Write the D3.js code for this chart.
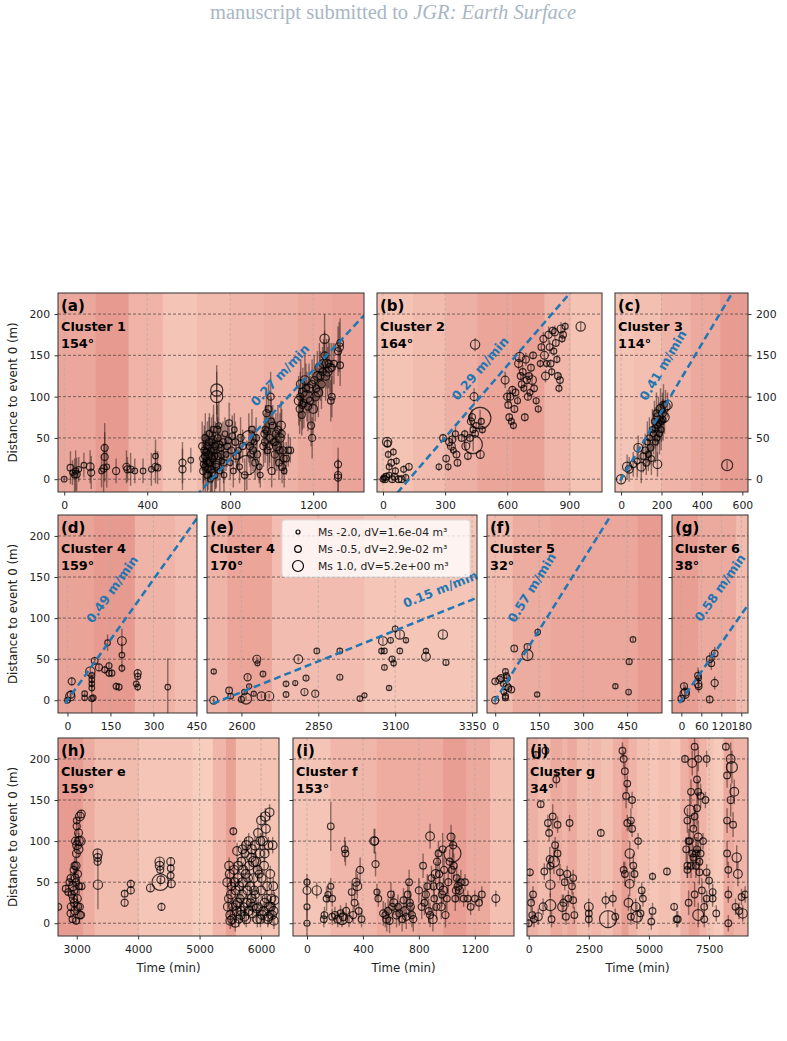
<!DOCTYPE html>
<html>
<head>
<meta charset="utf-8">
<script src="https://cdn.jsdelivr.net/npm/d3@7"></script>
<style>
  body { margin: 0; background: #fff; }
  svg text { font-family: "DejaVu Sans", sans-serif; }
</style>
</head>
<body>
<svg id="chart" width="787" height="1041"></svg>
<script>
'use strict';

// ---- data ----
// points: [time (min), distance (m), Ms, error half-length (m)]
var yTicks = [0, 50, 100, 150, 200];

var ptsA = [[0,0,-1,3],[30,14,-0.5,20],[40,8,-1,15],[50,5,-0.8,20],[55,10,-0.8,25],[60,6,-0.3,20],[70,12,-1,15],[95,17,-1,15],
  [125,15,0,20],[130,8,-0.3,20],[180,10,-1,20],[190,13,-0.3,30],[195,27,-0.3,30],[195,38,-0.3,30],[205,15,-1,25],[250,10,-0.3,15],
  [300,15,-0.3,20],[305,12,-0.3,15],[320,12,-0.5,20],[340,10,-1,15],[380,10,-1,15],[420,12,-1,20],[440,15,-0.3,20],[440,28,-1,20],
  [450,14,-0.5,20],[570,12,-0.3,25],[570,20,-0.3,25],[610,23,-1,15],
  [670,10,-0.3,25],[670,25,-0.3,30],[675,35,-0.5,30],[680,15,-0.3,30],[680,50,-0.5,30],[690,5,-0.5,25],[690,40,-0.3,30],[695,20,-0.5,25],
  [700,30,-0.3,30],[700,55,-0.5,25],[705,0,-1,20],[710,12,-0.3,30],[710,45,-0.5,30],[715,25,-0.3,30],[720,60,-0.5,30],[720,35,-0.5,25],
  [725,5,-0.5,25],[730,18,-0.3,30],[735,100,1.3,30],[735,108,1.3,30],[740,50,-0.5,25],[740,28,-0.3,30],[745,65,-1,30],[750,10,-1,25],
  [755,38,-0.5,25],[760,22,-1,20],[765,45,-0.5,25],[770,5,-1,25],[775,55,-1,20],[780,30,-1,20],[790,47,-0.5,25],[795,68,-0.5,25],
  [800,20,-1,20],[805,35,-0.5,20],[810,52,-0.5,25],[815,10,-1,20],[820,60,-1,20],[825,45,-0.5,25],[830,28,-0.5,20],[840,35,-1,20],
  [845,15,-1,20],[850,50,-0.3,25],[860,40,-0.5,20],[870,5,-0.5,20],[880,17,2.7,30],[890,50,1.8,30],[900,30,-0.3,25],[905,60,-0.5,25],
  [910,35,-0.3,25],[915,45,-1,20],[920,20,-0.5,20],[930,30,-0.3,25],[940,15,-1,20],[945,5,-1,15],
  [665,40,-0.3,30],[672,18,-0.5,30],[678,28,-0.3,30],[685,33,-0.5,25],[688,22,-0.3,30],[693,12,-0.5,25],[698,45,-0.3,30],[703,20,-0.3,25],
  [708,35,-0.5,30],[713,8,-0.3,25],[718,48,-0.3,30],[723,28,-0.5,25],[728,40,-0.3,30],[733,15,-0.5,25],[738,60,-0.3,30],[748,42,-0.5,25],
  [758,30,-0.3,25],[768,20,-0.5,25],[785,40,-0.5,25],[895,40,-0.3,25],[925,50,-0.5,25],
  [960,40,-0.3,25],[965,55,-0.3,25],[970,60,-0.5,30],[975,80,-0.3,30],[980,35,-0.5,25],[985,85,-0.5,30],[990,50,-0.3,30],[995,100,-0.3,30],
  [1000,10,-0.3,20],[1005,65,-0.5,25],[1010,45,-0.3,30],[1015,30,-0.3,25],[1020,55,-0.3,25],[1025,40,0.3,30],[1030,60,-0.3,30],[1035,20,-0.5,20],
  [1040,50,0.3,30],[1045,65,0.3,30],[1050,15,-0.3,20],[1055,35,-0.3,25],[1060,10,-1,20],[1070,25,-0.5,20],[1080,35,-0.5,20],[1090,35,-0.5,15],
  [968,45,-0.3,25],[978,58,-0.3,30],[988,40,-0.3,25],[998,70,-0.5,30],[1018,45,-0.3,25],[1038,35,-0.3,25],[1048,55,-0.3,30],[1058,25,-0.3,20],
  [1130,95,0.3,30],[1135,85,-0.3,30],[1140,115,0.3,30],[1145,78,-0.3,25],[1150,105,0.3,30],[1155,92,-0.3,30],[1160,120,0.3,30],[1170,100,1.3,30],
  [1180,110,0.3,30],[1185,95,-0.3,30],[1190,65,-0.3,25],[1195,50,-0.3,25],[1200,85,0.3,30],[1205,120,-0.3,30],[1210,100,0.3,30],[1220,125,0.3,30],
  [1225,105,0.3,30],[1230,135,0.3,30],[1240,115,-0.3,30],[1250,140,0.3,30],[1255,170,0.5,30],[1255,150,-0.3,30],[1260,125,0.3,30],[1265,140,0.3,30],
  [1270,130,0.3,30],[1280,135,0.3,30],[1285,95,-0.5,25],[1290,100,-0.5,25],[1300,140,-0.5,25],[1320,155,-0.3,30],[1325,160,0.3,30],[1330,165,-0.5,30],
  [1138,100,-0.3,30],[1148,90,-0.3,30],[1165,110,-0.3,30],[1175,88,-0.3,30],[1195,115,-0.3,30],[1215,110,-0.3,30],[1235,125,-0.3,30],[1245,130,-0.3,30],
  [1275,140,-0.3,30],[1290,135,-0.3,30],
  [1320,5,-0.3,20],[1320,18,-0.3,20],[1320,2,-0.3,20],[1330,138,-0.5,25]];

var ptsB = [[0,0,-1,5],[5,2,-1,5],[10,0,-0.5,5],[15,3,-0.5,5],[20,45,0.5,5],[22,43,-0.5,5],[25,30,-1,5],[30,5,-1,5],[30,15,-0.8,5],
  [40,20,-0.5,5],[45,0,-0.5,5],[50,33,-1,5],[55,3,-0.5,5],[60,10,-0.8,5],[65,22,-1,5],[75,0,-0.5,5],[90,0,-0.5,5],[100,12,-0.8,5],
  [110,2,-0.8,5],[125,15,-0.5,5],
  [270,15,-1,5],[290,50,-0.5,5],[305,25,-0.5,5],[315,15,-1,5],[320,45,-0.3,8],[330,40,0,8],[335,48,-0.3,8],[340,35,-1,5],[350,55,-0.8,8],
  [355,30,-0.5,5],[360,20,-0.5,5],[380,50,-0.5,5],[395,55,-0.8,5],[400,40,0,5],[410,28,-0.5,5],[420,50,-0.5,8],[425,70,-0.3,8],[430,75,-0.3,10],
  [435,60,-0.8,5],[440,100,0,10],[445,55,-0.5,5],[445,163,0.5,8],[450,65,-0.8,5],[469,74,3,10],[436,42,2.5,8],[470,30,0,5],[475,70,-0.8,5],[480,60,-0.8,5],
  [590,120,0,10],[600,100,-0.3,8],[605,90,-0.5,5],[610,75,-0.5,5],[615,100,-0.3,8],[620,70,-0.8,5],[625,108,-0.3,5],[630,65,-0.8,5],
  [635,85,-0.5,5],[640,105,-0.5,5],[650,95,-0.8,5],[655,140,0,8],[660,148,0.5,8],[665,125,-0.5,5],[670,115,-0.5,8],[675,130,-0.5,8],
  [680,110,-0.8,5],[685,75,-0.5,5],[690,145,-0.3,8],[695,120,-0.3,8],[700,100,-0.3,5],[705,125,-0.5,5],[710,105,-0.8,5],[715,135,-0.5,5],
  [720,120,0.3,8],[725,150,-0.5,5],[730,110,-0.5,5],[740,95,-0.8,5],[750,85,-0.8,5],[760,140,-0.8,5],[765,160,-0.5,5],[775,170,-0.3,8],
  [780,150,0,8],[785,125,0,8],[790,140,-0.8,5],[800,175,-0.3,10],[805,160,-0.5,8],[810,140,-0.5,5],[815,130,-0.8,5],[820,180,-0.5,5],
  [825,155,-0.8,5],[830,178,-0.3,8],[835,165,-0.5,5],[840,145,-0.8,5],[845,125,-0.5,5],[850,110,-0.8,5],[855,120,-0.5,8],[860,182,0,8],
  [865,170,-0.8,5],[870,175,-0.5,5],[880,185,-0.8,5],[955,185,0.5,5]];

var ptsC = [[0,0,0.5,5],[30,15,0.5,15],[40,12,0,15],[60,18,-0.5,15],[80,22,-0.8,20],[85,38,0.3,15],[100,15,0.3,20],[110,28,-0.5,20],
  [120,35,-0.5,20],[125,20,-0.5,15],[130,45,-0.8,25],[135,30,-0.8,20],[140,50,-0.8,25],[145,38,-0.5,20],[150,25,-0.8,20],[155,60,-0.8,25],
  [160,55,-0.8,25],[165,70,-0.8,25],[170,45,-0.8,25],[175,80,-0.5,25],[180,18,0.3,15],[180,65,-0.8,25],[185,75,0.5,25],[190,55,-0.8,25],
  [195,85,0.3,25],[200,70,-0.8,25],[205,80,0,25],[210,90,-0.3,25],[215,75,0.5,20],[220,88,0.5,20],[230,90,0.5,15],[525,17,1,5],
  [168,62,-0.8,25],[178,50,-0.8,25],[188,68,-0.8,25],[198,60,-0.8,25],[208,72,-0.8,25]];

var ptsD = [[0,0,-1,3],[10,5,0.5,5],[12,7,-0.3,5],[15,23,-0.3,5],[60,3,-1,3],[60,8,-1,3],[80,35,0.5,5],[85,30,-0.8,5],[85,25,-1,5],
  [85,20,-1,5],[85,15,-1,5],[85,2,-0.8,25],[90,3,-1,5],[95,48,-0.5,5],[110,40,-0.3,5],[130,37,-0.8,5],[140,70,-1,10],[145,42,-0.8,5],
  [145,33,-0.8,5],[155,33,-0.8,5],[170,17,-0.8,5],[180,16,-0.8,5],[190,72,0.3,15],[190,55,-1,15],[190,39,-1,5],[240,20,-1,5],
  [245,33,-0.3,5],[245,29,-0.8,5],[245,16,-1,5],[350,16,-1,35]];

var ptsE = [[2510,35,-1.2,3],[2510,0,0,3],[2560,12,-0.5,3],[2565,5,-1,3],[2600,1,-0.8,3],[2610,10,-1,3],[2615,2,1,3],[2620,28,-0.3,3],
  [2625,17,-1.3,3],[2640,8,-1.3,3],[2650,50,0,3],[2652,45,-1.3,3],[2665,5,0.3,3],[2670,32,-1,3],[2690,5,0.5,3],[2745,7,-1,3],
  [2745,20,-1,3],[2775,21,-1.3,3],[2785,50,0.3,3],[2805,10,-0.3,3],[2810,27,-0.8,3],[2845,60,-1,4],[2840,8,-0.3,3],[2920,28,-0.8,3],
  [2920,60,-1,4],[2985,2,-1,3],[3000,6,-1.3,3],[3055,60,-1.2,5],[3060,72,0.3,4],[3065,40,-1,3],[3065,60,-1,4],[3080,15,-1.2,3],
  [3085,73,-1,4],[3090,50,-0.8,3],[3095,45,-1.2,5],[3100,87,-1,5],[3115,80,0.5,5],[3115,60,-1,4],[3135,73,-1.2,4],[3200,60,-1.2,4],
  [3200,53,0.3,4],[3255,80,0.5,5],[3265,46,-0.8,4]];

var ptsF = [[0,0,-0.3,3],[0,23,-0.5,3],[15,25,-0.3,3],[20,27,-0.3,3],[28,20,-0.8,3],[30,10,-1,3],[35,35,-1,3],[35,3,-0.8,3],[35,5,-0.8,5],
  [38,30,-0.8,3],[40,17,-0.3,3],[40,27,-0.5,3],[45,15,-0.5,3],[55,13,-0.5,3],[65,63,-0.5,3],[110,55,1,5],[110,65,-0.5,3],[145,83,-1,5],
  [143,7,-1.2,3],[410,17,-1.2,3],[455,10,-1,3],[457,47,-0.8,3],[470,74,-1,3]];

var ptsG = [[0,2,-0.5,3],[8,17,-0.3,5],[10,8,0.5,5],[12,10,0,8],[50,30,-0.5,10],[52,27,-1,10],[50,20,0,8],[52,17,-0.5,8],[85,1,-0.5,5],
  [85,50,-0.5,8],[90,45,-0.5,8],[100,57,-0.5,8],[100,21,-0.3,8]];

var ptsH = [[2700,20,-0.5,5],[2820,42,-0.5,5],[2860,38,-0.5,5],[2880,50,-0.5,5],[2900,55,-0.3,8],[2900,12,-0.3,5],[2910,20,0,5],[2920,35,-0.3,5],
  [2930,5,-0.5,5],[2940,45,0.3,5],[2950,65,-0.3,10],[2960,25,0,10],[2965,70,-0.3,10],[2970,15,0,5],[2980,100,0,10],[2985,50,-0.3,10],
  [2990,3,-0.5,5],[2995,85,0,10],[3000,118,-0.3,10],[3000,125,-0.5,5],[3010,30,0,10],[3020,60,-0.3,10],[3030,110,0,10],[3030,90,0.3,10],
  [3040,45,-0.5,10],[3050,20,-0.3,5],[3050,130,0.3,5],[3060,100,0.5,5],[3070,10,-0.3,5],[3075,133,0,5],[3080,45,-0.5,5],
  [2955,40,0,10],[2975,55,0,10],[2990,70,0,10],[3005,95,0.3,10],[3015,20,0,10],[3035,100,0.3,10],[3045,10,0,10],[2945,30,0,10],
  [3340,85,0.5,5],[3340,80,0,5],[3340,75,-0.3,5],[3345,47,0.5,30],[3780,25,-0.3,5],[3780,36,-0.5,5],[3880,48,-0.3,5],[3880,40,-0.3,5],
  [4200,43,0,5],[4350,75,0.5,5],[4350,70,0.3,5],[4360,50,2.2,5],[4370,53,0,5],[4380,20,-0.3,5],[4360,65,-0.3,5],[4530,75,0,5],
  [4530,67,-0.5,5],[4530,58,-0.5,5],[4540,48,0,5],
  [5450,50,0.3,10],[5470,30,0,10],[5480,70,0.3,10],[5500,10,0.3,10],[5520,45,0,10],[5540,20,0,10],[5550,112,-0.5,5],[5560,65,0.3,10],
  [5580,0,0,10],[5590,40,0.3,10],[5600,15,0.3,10],[5610,88,0.3,10],[5620,55,0.3,10],[5640,5,0,10],[5660,30,0,10],[5680,75,0.3,10],
  [5700,50,0.5,10],[5720,20,0,10],[5740,85,0,10],[5750,60,0.3,10],[5760,5,0.3,10],[5780,40,0.3,10],[5800,100,0.3,10],[5810,70,0.3,10],
  [5830,25,0,10],[5850,90,0.5,10],[5860,12,0.3,10],[5880,55,0.3,10],[5900,95,0.5,10],[5910,35,0,10],[5920,75,0.5,10],[5940,5,0.3,10],
  [5950,110,0.3,10],[5960,20,0,10],[5970,60,0,10],[5980,85,0.3,10],[6000,125,0.3,10],[6000,40,0.3,10],[6020,10,0.3,10],[6030,100,0.5,10],
  [6050,70,0.3,10],[6060,25,0.3,10],[6070,130,0.5,10],[6080,115,0.3,10],[6100,45,0.3,10],[6110,5,0.3,10],[6120,95,0.3,10],[6130,20,0.3,10],
  [6140,135,0.3,10],[6150,60,0.3,10],[6170,30,0.3,10],[6180,10,0.3,10],[6200,45,0.3,10],[6210,3,0.3,10],[6220,28,0.3,10],[5500,3,0.3,10],
  [5680,15,0.3,10],[5850,30,0.3,10],[5990,5,0.3,10],[5620,25,0.3,10],[5800,15,0.3,10],
  [5460,20,0.3,10],[5490,60,0.3,10],[5510,35,0.3,10],[5530,5,0.3,10],[5570,50,0.3,10],[5590,22,0.3,10],[5630,70,0.3,10],[5650,45,0.3,10],
  [5670,10,0.3,10],[5690,35,0.3,10],[5710,65,0.3,10],[5730,8,0.3,10],[5770,25,0.3,10],[5790,55,0.3,10],[5820,45,0.3,10],[5840,80,0.3,10],
  [5870,20,0.3,10],[5890,40,0.3,10],[5930,18,0.3,10],[5945,65,0.3,10],[5990,100,0.3,10],[6010,55,0.3,10],[6040,15,0.3,10],[6060,85,0.3,10],
  [6090,30,0.3,10],[6120,8,0.3,10],[6160,20,0.3,10],[6190,95,0.3,10],[6205,15,0.3,10],[5760,95,0.5,10],[5880,75,0.8,10],[5700,90,0.3,10]];

var ptsI = [[0,0,-0.8,20],[0,20,-0.8,15],[0,40,0,15],[0,50,-0.8,10],[70,40,0.5,10],[120,5,-0.5,10],[125,10,-0.5,10],[140,30,-0.5,15],
  [150,35,-0.8,10],[170,118,-0.5,30],[170,45,-0.8,10],[180,30,-0.5,10],[180,8,-0.5,10],[200,10,-0.3,10],[220,5,0,10],[240,12,-0.3,10],
  [250,5,1,10],[260,8,0,10],[270,90,-0.5,15],[275,85,-0.5,15],[280,15,-0.3,10],[300,5,-0.3,10],[320,38,-0.5,10],[330,10,-0.3,10],
  [340,25,-0.5,10],[350,50,0,15],[360,45,0.3,15],[370,15,-0.5,10],[380,65,-0.3,15],[390,5,-0.5,10],[480,100,0.3,15],[485,100,0,15],
  [490,72,-0.3,15],[500,38,-0.8,10],[510,30,-0.5,10],[560,10,-0.5,15],[570,5,0,15],[580,15,-0.3,15],[600,35,-0.5,15],[620,25,0,15],
  [640,10,0,15],[650,20,-0.5,15],[680,5,-0.5,15],[690,28,-0.5,15],[700,15,0.3,15],[720,35,-0.5,15],[730,50,-0.5,15],[740,20,0,15],
  [750,10,-0.3,15],[760,5,-0.3,15],[800,40,-0.3,15],[830,70,-0.5,15],[840,25,-0.5,15],[860,45,-0.5,15],[870,15,-0.5,15],[880,106,0.3,15],
  [890,55,-0.5,15],[900,5,0.3,15],[910,30,-0.5,15],[920,60,0.3,15],[930,75,-0.3,15],[940,85,-0.5,15],[950,45,-0.3,15],[960,20,0,15],
  [970,90,-0.5,20],[975,40,0.3,15],[980,65,-0.3,15],[990,10,-0.3,15],[1000,30,-0.5,15],[1020,75,-0.3,15],[1030,105,0,15],[1040,85,2.3,15],
  [1045,95,-0.3,15],[1050,70,-0.5,15],[1060,30,-0.5,15],[1070,55,-0.5,15],[1080,45,0,15],[1090,40,0,15],[1100,50,-0.5,15],[1120,30,-0.5,10],
  [1130,50,-0.5,10],[1150,30,-0.5,10],[1170,20,-0.5,10],[1200,30,-0.5,10],[1230,25,-0.5,10],[1250,35,-0.5,10],[1350,30,0,10],
  [545,12,-0.3,15],[590,3,-0.3,15],[610,20,-0.3,15],[660,12,-0.3,15],[710,8,-0.3,15],[735,25,-0.3,15],[820,20,-0.3,15],[850,35,-0.3,15],
  [880,10,-0.3,15],[905,45,-0.3,15],[925,20,-0.3,15],[945,60,-0.3,15],[965,35,-0.3,15],[1010,50,-0.3,15],[1035,65,-0.3,15],[1065,40,-0.3,15]];

var ptsJ = [[0,0,-0.5,5],[50,62,-0.5,5],[100,25,-0.5,10],[150,10,-0.5,10],[180,35,-0.5,10],[220,5,-0.5,10],[300,205,-0.5,5],[400,8,0,10],
  [500,145,-0.5,5],[600,20,0,10],[650,63,-0.5,10],[700,210,-0.5,5],[800,122,-0.5,10],[850,110,-0.5,10],[880,78,-0.3,15],[900,70,-0.5,10],
  [900,22,1,15],[900,47,0.5,15],[950,5,-0.5,10],[1000,130,-0.5,15],[1050,75,1,15],[1100,95,-0.5,10],[1150,175,-0.5,10],[1200,120,-0.5,10],
  [1200,85,-0.5,10],[1300,62,-0.5,10],[1400,20,0.5,15],[1450,25,-0.3,10],[1500,50,-0.5,10],[1550,8,-0.5,10],[1600,60,-0.3,10],[1650,30,-0.5,10],
  [1700,122,-0.5,10],[1800,45,-0.5,10],[1850,55,-0.5,10],[1850,28,-0.5,10],[1900,10,-0.5,10],[2500,20,0.3,10],[2500,12,-0.5,10],[2500,5,-0.5,10],
  [3000,110,-0.5,5],[3200,28,-0.3,10],[3300,5,2.3,10],[3500,30,-0.5,10],[3600,8,-0.5,10],[3900,210,-0.5,10],[3950,200,-0.5,10],[3950,65,-0.5,10],
  [4000,60,-0.5,15],[4000,185,-0.5,10],[4050,155,-0.5,15],[4100,170,-0.5,10],[4100,122,-0.5,10],[4150,25,0.3,10],[4200,48,0.3,15],[4200,85,0.5,15],
  [4250,125,-0.5,15],[4250,8,-0.5,10],[4300,150,-0.5,10],[4300,115,-0.5,10],[4350,70,-0.5,15],[4400,60,-0.5,10],[4450,20,0.3,10],[4500,8,1,15],
  [4550,100,-0.5,10],[4650,12,-0.5,10],[4700,40,-0.5,10],[4750,30,-0.5,10],[5100,2,-0.5,10],[5150,57,-0.8,5],[5150,15,-0.5,10],[5750,63,-0.5,5],
  [6050,20,-0.5,5],[6150,5,-0.5,10],[6200,5,-0.5,10],[6500,200,-0.5,5],[6550,90,-0.5,15],[6600,125,-0.5,15],[6600,70,-0.5,15],[6600,65,-0.5,10],
  [6650,25,-0.5,15],[6700,137,1,20],[6700,100,-0.5,15],[6750,160,-0.5,15],[6800,195,0.3,15],[6850,115,-0.5,15],[6850,80,-0.5,15],[6900,35,-0.5,15],
  [6900,215,-0.5,15],[6950,85,-0.5,20],[7000,175,-0.5,20],[7000,140,-0.5,20],[7050,105,0,20],[7050,200,-0.5,15],[7050,10,1,15],[7100,62,-0.5,15],
  [7150,155,-0.5,15],[7150,85,-0.5,15],[7200,40,-0.5,15],[7250,100,-0.5,10],[7300,20,-0.5,10],[7300,5,-0.5,10],[7350,150,-0.5,10],[7400,200,-0.5,10],
  [7400,62,-0.5,10],[7400,30,-0.5,10],[7500,52,-0.5,10],[7650,38,-0.5,10],[7650,30,-0.5,10],[7800,12,-0.5,10],[8200,215,-0.5,5],[8250,180,-0.5,15],
  [8250,125,-0.5,15],[8250,85,-0.5,15],[8300,65,-0.5,10],[8300,35,-0.5,10],[8300,0,-0.5,10],[8400,200,0.3,20],[8400,150,-0.3,20],[8450,190,1,20],
  [8500,120,-0.5,15],[8550,160,0.3,15],[8600,20,-0.5,10],[8650,80,0.5,15],[8700,60,0.3,15],[8750,15,-0.5,10],[8850,32,-0.5,10],[8900,12,0.5,10],
  [9000,35,-0.5,10],
  [6750,70,-0.5,15],[6800,85,-0.5,15],[6950,70,-0.5,15],[7000,90,-0.5,15],[7100,75,-0.5,15],[6900,130,-0.5,15],[7050,160,-0.5,15],[6650,100,-0.5,15]];

// background shading: [from, to, level 0..1]
var bandsA = [[-30,150,0.62],[150,310,0.8],[310,475,0.45],[475,640,0.22],[640,800,0.35],[800,960,0.42],[960,1125,0.48],[1125,1290,0.58],[1290,1445,0.66]];
var bandsB = [[-29,145,0.25],[145,300,0.35],[300,455,0.5],[455,620,0.65],[620,780,0.7],[780,910,0.42],[910,1058,0.25]];
var bandsC = [[-30,60,0.22],[60,200,0.3],[200,345,0.45],[345,490,0.6],[490,628,0.78]];
var bandsD = [[-33,90,0.68],[90,235,0.8],[235,375,0.45],[375,452,0.32]];
var bandsE = [[2488,2555,0.45],[2555,2700,0.65],[2700,3000,0.32],[3000,3366,0.2]];
var bandsF = [[-28,60,0.35],[60,190,0.55],[190,485,0.62],[485,569,0.78]];
var bandsG = [[-28,50,0.75],[50,165,0.58],[165,200,0.35]];
var bandsH = [[2695,3100,0.78],[3100,3290,0.55],[3290,4020,0.35],[4020,4890,0.2],[4890,5215,0.1],[5215,5430,0.42],[5430,5590,0.7],[5590,6293,0.25]];
var bandsI = [[-100,166,0.22],[166,498,0.42],[498,973,0.56],[973,1140,0.75],[1140,1310,0.6],[1310,1480,0.3]];
var bandsJ = [[-70,400,0.5],[400,900,0.35],[900,1400,0.6],[1400,1600,0.45],[1600,2000,0.6],[2000,2600,0.35],[2600,3000,0.4],[3000,3500,0.3],
  [3500,3850,0.5],[3850,4150,0.75],[4150,4500,0.45],[4500,5000,0.3],[5000,5400,0.2],[5400,5900,0.3],[5900,6300,0.2],[6300,6650,0.5],
  [6650,7100,0.7],[7100,7400,0.45],[7400,7700,0.25],[7700,8100,0.15],[8100,8550,0.6],[8550,9120,0.45]];

var ticksA = [0, 400, 800, 1200], ticksB = [0, 300, 600, 900], ticksC = [0, 200, 400, 600];
var ticksD = [0, 150, 300, 450], ticksE = [2600, 2850, 3100, 3350], ticksF = [0, 150, 300, 450], ticksG = [0, 60, 120, 180];
var ticksH = [3000, 4000, 5000, 6000], ticksI = [0, 400, 800, 1200], ticksJ = [0, 2500, 5000, 7500];

var clusters = ['Cluster 1', 'Cluster 2', 'Cluster 3', 'Cluster 4', 'Cluster 4', 'Cluster 5', 'Cluster 6', 'Cluster e', 'Cluster f', 'Cluster g'];
var azimuths = ['154°', '164°', '114°', '159°', '170°', '32°', '38°', '159°', '153°', '34°'];
// migration fits: rate (m/min), start time, time of zero distance, label anchor [t, d]
var rates = [0.27, 0.29, 0.41, 0.49, 0.15, 0.57, 0.58];
var fitStart = [600, 0, -5, -8, 2507, -3, -6];
var fitZero = [710, 126, 0, 0, 2534, 0, 0];
var fitLabel = [[1040, 126], [469, 134], [208, 138], [156, 135], [3247, 135], [125, 137], [116, 137]];

var legendMs = [-2.0, -0.5, 1.0];
var legendDv = ['1.6e-04', '2.9e-02', '5.2e+00'];

// ---- layout ----
var panels = [
  { id: 'a', pts: ptsA, bands: bandsA, ticks: ticksA, dom: [-30, 1445], box: [58, 364, 293, 492], yLab: 'left' },
  { id: 'b', pts: ptsB, bands: bandsB, ticks: ticksB, dom: [-29, 1058], box: [377, 602, 293, 492] },
  { id: 'c', pts: ptsC, bands: bandsC, ticks: ticksC, dom: [-30, 628], box: [615, 748, 293, 492], yLab: 'right' },
  { id: 'd', pts: ptsD, bands: bandsD, ticks: ticksD, dom: [-33, 452], box: [58, 197, 515, 713], yLab: 'left' },
  { id: 'e', pts: ptsE, bands: bandsE, ticks: ticksE, dom: [2488, 3366], box: [207, 477, 515, 713], legend: true },
  { id: 'f', pts: ptsF, bands: bandsF, ticks: ticksF, dom: [-28, 569], box: [487, 662, 515, 713] },
  { id: 'g', pts: ptsG, bands: bandsG, ticks: ticksG, dom: [-28, 200], box: [672, 748, 515, 713] },
  { id: 'h', pts: ptsH, bands: bandsH, ticks: ticksH, dom: [2695, 6293], box: [58, 279, 738, 936], yLab: 'left', xLab: true },
  { id: 'i', pts: ptsI, bands: bandsI, ticks: ticksI, dom: [-100, 1480], box: [293, 514, 738, 936], xLab: true },
  { id: 'j', pts: ptsJ, bands: bandsJ, ticks: ticksJ, dom: [-70, 9120], box: [527, 748, 738, 936], xLab: true }
];

var yDom = [-15.5, 225.5];
var blue = '#1f77b4';
var shade = d3.scaleLinear().domain([0, 1]).range(['#f9d5c5', '#e38b82']);
var logR = d3.scaleLinear().domain([-2, 1]).range([Math.log(2), Math.log(5.5)]);
var radius = function(ms) { return Math.exp(logR(ms)); };

var svg = d3.select('#chart');
var defs = svg.append('defs');

// header
svg.append('text')
  .attr('x', 393).attr('y', 19)
  .attr('text-anchor', 'middle')
  .style('font-family', '"Liberation Serif", serif')
  .style('font-size', '20.5px')
  .attr('fill', '#a9b6c4')
  .text('manuscript submitted to ')
  .append('tspan').style('font-style', 'italic').text('JGR: Earth Surface');

var drawPanel = function(p, i) {
  var x = d3.scaleLinear().domain(p.dom).range([p.box[0], p.box[1]]);
  var y = d3.scaleLinear().domain(yDom).range([p.box[3], p.box[2]]);
  var w = p.box[1] - p.box[0], h = p.box[3] - p.box[2];

  defs.append('clipPath').attr('id', 'clip-' + p.id)
    .append('rect').attr('x', p.box[0]).attr('y', p.box[2]).attr('width', w).attr('height', h);

  var g = svg.append('g');
  var inner = g.append('g').attr('clip-path', 'url(#clip-' + p.id + ')');

  inner.selectAll('rect.band').data(p.bands).enter()
    .append('rect')
    .attr('x', function(d) { return x(d[0]); })
    .attr('y', p.box[2])
    .attr('width', function(d) { return x(d[1]) - x(d[0]) + 0.5; })
    .attr('height', h)
    .attr('fill', function(d) { return shade(d[2]); });

  // grid
  inner.selectAll('line.vg').data(p.ticks).enter()
    .append('line')
    .attr('x1', function(d) { return x(d); }).attr('x2', function(d) { return x(d); })
    .attr('y1', p.box[2]).attr('y2', p.box[3])
    .attr('stroke', '#b8a8a4').attr('stroke-width', 0.7).attr('stroke-dasharray', '3,2');
  inner.selectAll('line.hg').data(yTicks).enter()
    .append('line')
    .attr('x1', p.box[0]).attr('x2', p.box[1])
    .attr('y1', function(d) { return y(d); }).attr('y2', function(d) { return y(d); })
    .attr('stroke', '#5a4a48').attr('stroke-width', 0.8).attr('stroke-dasharray', '3,2');

  // error bars then markers
  inner.selectAll('line.err').data(p.pts).enter()
    .append('line')
    .attr('x1', function(d) { return x(d[0]); }).attr('x2', function(d) { return x(d[0]); })
    .attr('y1', function(d) { return y(d[1] - d[3]); }).attr('y2', function(d) { return y(d[1] + d[3]); })
    .attr('stroke', '#2a1a18').attr('stroke-opacity', 0.5).attr('stroke-width', 1.4);
  inner.selectAll('circle').data(p.pts).enter()
    .append('circle')
    .attr('cx', function(d) { return x(d[0]); })
    .attr('cy', function(d) { return y(d[1]); })
    .attr('r', function(d) { return radius(d[2]); })
    .attr('fill', 'none')
    .attr('stroke', '#000').attr('stroke-opacity', 0.75).attr('stroke-width', 1.2);

  // migration line
  if (i < rates.length) {
    var rate = rates[i];
    var t1 = p.dom[1];
    inner.append('line')
      .attr('x1', x(fitStart[i])).attr('y1', y(rate * (fitStart[i] - fitZero[i])))
      .attr('x2', x(t1)).attr('y2', y(rate * (t1 - fitZero[i])))
      .attr('stroke', blue).attr('stroke-width', 2.5).attr('stroke-dasharray', '7,4');
    var ang = Math.atan2(y(rate * 100) - y(0), x(100) - x(0)) * 180 / Math.PI;
    var lx = x(fitLabel[i][0]), ly = y(fitLabel[i][1]);
    g.append('text')
      .attr('transform', 'translate(' + lx + ',' + ly + ') rotate(' + ang + ')')
      .attr('text-anchor', 'middle').attr('dy', '0.35em')
      .style('font-size', '12.5px').style('font-weight', 'bold')
      .attr('fill', blue)
      .text(rate.toFixed(2) + ' m/min');
  }

  // panel labels
  var tx = p.box[0] + 3;
  g.append('text').attr('x', tx).attr('y', p.box[2] + 17.5)
    .style('font-size', '15px').style('font-weight', 'bold').text('(' + p.id + ')');
  g.append('text').attr('x', tx).attr('y', p.box[2] + 38)
    .style('font-size', '12.8px').style('font-weight', 'bold').text(clusters[i]);
  g.append('text').attr('x', tx).attr('y', p.box[2] + 54.5)
    .style('font-size', '12.8px').style('font-weight', 'bold').text(azimuths[i]);

  // frame
  g.append('rect').attr('x', p.box[0]).attr('y', p.box[2]).attr('width', w).attr('height', h)
    .attr('fill', 'none').attr('stroke', '#333').attr('stroke-width', 1);

  // axes
  var xa = g.append('g').attr('transform', 'translate(0,' + p.box[3] + ')')
    .call(d3.axisBottom(x).tickValues(p.ticks).tickSize(3.5).tickPadding(6).tickFormat(d3.format('d')));
  var ya;
  if (p.yLab === 'right') {
    ya = g.append('g').attr('transform', 'translate(' + p.box[1] + ',0)')
      .call(d3.axisRight(y).tickValues(yTicks).tickSize(3.5).tickPadding(4.5));
  } else {
    ya = g.append('g').attr('transform', 'translate(' + p.box[0] + ',0)')
      .call(d3.axisLeft(y).tickValues(yTicks).tickSize(3.5).tickPadding(4.5));
    if (p.yLab !== 'left') ya.selectAll('text').remove();
  }
  [xa, ya].forEach(function(a) {
    a.select('.domain').remove();
    a.selectAll('line').attr('stroke', '#333');
    a.selectAll('text').style('font-family', '"DejaVu Sans", sans-serif').style('font-size', '10.8px').attr('fill', '#222');
  });

  if (p.yLab === 'left') {
    g.append('text')
      .attr('transform', 'translate(13,' + (p.box[2] + p.box[3]) / 2 + ') rotate(-90)')
      .attr('text-anchor', 'middle').attr('dy', '0.35em')
      .style('font-size', '11.8px').attr('fill', '#222')
      .text('Distance to event 0 (m)');
  }
  if (p.xLab) {
    g.append('text')
      .attr('x', (p.box[0] + p.box[1]) / 2).attr('y', p.box[3] + 36)
      .attr('text-anchor', 'middle')
      .style('font-size', '11.8px').attr('fill', '#222')
      .text('Time (min)');
  }

  if (p.legend) {
    var lg = g.append('g');
    lg.append('rect').attr('x', 282).attr('y', 520).attr('width', 188).attr('height', 57).attr('rx', 3)
      .attr('fill', '#fff').attr('fill-opacity', 0.8).attr('stroke', '#ddd');
    legendMs.forEach(function(ms, k) {
      var ry = 532 + k * 17;
      lg.append('circle').attr('cx', 298).attr('cy', ry).attr('r', radius(ms))
        .attr('fill', 'none').attr('stroke', '#000').attr('stroke-width', 1.2);
      lg.append('text').attr('x', 318).attr('y', ry).attr('dy', '0.35em')
        .style('font-size', '10.8px').attr('fill', '#222')
        .text('Ms ' + ms.toFixed(1) + ', dV=' + legendDv[k] + ' m³');
    });
  }
};

panels.forEach(drawPanel);
</script>
</body>
</html>
